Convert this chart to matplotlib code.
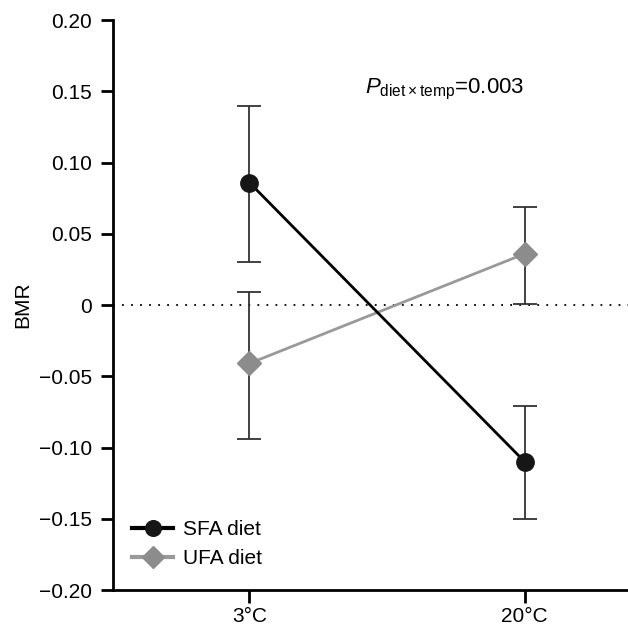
import numpy as np
import matplotlib
matplotlib.use("Agg")
import matplotlib.pyplot as plt

plt.rcParams['font.family'] = ['Liberation Sans', 'DejaVu Sans']
plt.rcParams['mathtext.fontset'] = 'custom'
plt.rcParams['mathtext.rm'] = 'Liberation Sans'
plt.rcParams['mathtext.it'] = 'Liberation Sans:italic'

# data
temps = ['3°C', '20°C']
sfa_mean = [0.086, -0.110]
sfa_hi = [0.140, -0.071]
sfa_lo = [0.030, -0.150]
ufa_mean = [-0.041, 0.036]
ufa_hi = [0.009, 0.069]
ufa_lo = [-0.094, 0.001]

yticks = [0.20, 0.15, 0.10, 0.05, 0, -0.05, -0.10, -0.15, -0.20]
ytick_labels = ['0.20', '0.15', '0.10', '0.05', '0', '\u22120.05', '\u22120.10', '\u22120.15', '\u22120.20']

fs = 15
x = np.arange(len(temps))

fig = plt.figure(figsize=(6.28, 6.28), dpi=100)
ax = fig.add_axes([0.180, 0.0605, 0.820, 0.9075])

ax.axhline(0, color='black', lw=1.3, ls=(0, (1, 4)), zorder=1)

# error bars
for mean, hi, lo in [(sfa_mean, sfa_hi, sfa_lo), (ufa_mean, ufa_hi, ufa_lo)]:
    m = np.array(mean)
    err = np.vstack([m - np.array(lo), np.array(hi) - m])
    ax.errorbar(x, m, yerr=err, fmt='none', ecolor='#333333', elinewidth=1.3,
                capsize=8.5, capthick=1.3, zorder=2)

ax.plot(x, ufa_mean, color='#999999', lw=2, marker='D', markersize=12,
        markerfacecolor='#8c8c8c', markeredgecolor='#8c8c8c', label='UFA diet', zorder=3)
ax.plot(x, sfa_mean, color='black', lw=2, marker='o', markersize=12.5,
        markerfacecolor='#161616', markeredgecolor='#161616', label='SFA diet', zorder=4)

ax.set_xlim(-0.495, 0.375 + 1)
ax.set_ylim(-0.20, 0.20)
ax.set_xticks(x)
ax.set_xticklabels(temps, fontsize=fs)
ax.set_yticks(yticks)
ax.set_yticklabels(ytick_labels, fontsize=fs)
ax.set_ylabel('BMR', fontsize=fs, labelpad=5)

for s in ['top', 'right']:
    ax.spines[s].set_visible(False)
for s in ['left', 'bottom']:
    ax.spines[s].set_linewidth(2)
ax.tick_params(axis='y', length=9, width=2, pad=6)
ax.tick_params(axis='x', length=9, width=2, pad=3)

ax.text(0.419, 0.1485, r'$\mathit{P}_{\mathrm{diet\times temp}}$=0.003', fontsize=16)

handles, labels = ax.get_legend_handles_labels()
leg = ax.legend(handles[::-1], labels[::-1], loc='lower left', frameon=False, fontsize=fs,
                handlelength=2.0, handletextpad=0.45, labelspacing=0.5, markerscale=0.9,
                bbox_to_anchor=(0.0, 0.005))
for h in leg.legend_handles:
    h.set_linewidth(3)

fig.savefig('out.png', dpi=100)
